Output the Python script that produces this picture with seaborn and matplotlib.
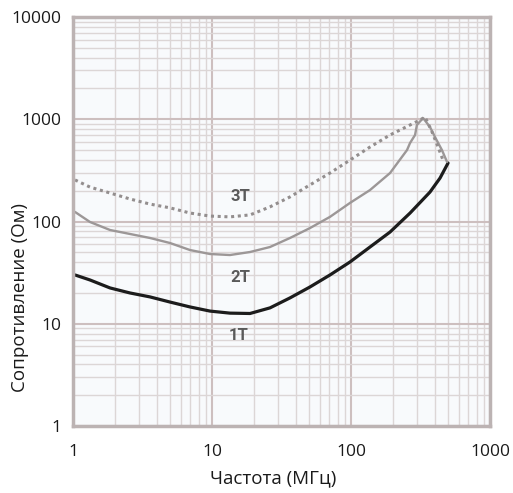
import numpy as np
import pandas as pd
import matplotlib
matplotlib.use("Agg")
import matplotlib.pyplot as plt
import seaborn as sns
from matplotlib.ticker import LogLocator, FixedLocator, NullFormatter

# ---- data ----
f_1t = [1.034, 1.325, 1.846, 2.571, 3.581, 4.987, 6.946, 9.674, 13.47, 18.77,
        26.14, 36.41, 50.7, 70.6, 98.4, 137, 191, 266, 370, 437, 499]
z_1t = [30.0, 26.8, 22.4, 20.0, 18.3, 16.3, 14.6, 13.3, 12.7, 12.6,
        14.3, 17.9, 22.9, 30.0, 40.2, 56.3, 78.9, 121, 194, 266, 373]

f_2t = [1.034, 1.325, 1.846, 2.571, 3.581, 4.987, 6.946, 9.674, 13.47, 18.77,
        26.14, 36.41, 50.7, 70.6, 98.4, 137, 191, 253, 266, 289, 298, 330,
        370, 402, 451, 491]
z_2t = [124, 98.9, 82.6, 75.5, 69.0, 61.6, 52.6, 48.1, 47.0, 50.3,
        56.3, 69.0, 86.3, 111, 152, 203, 298, 500, 586, 702, 879, 1028,
        840, 670, 500, 382]

f_3t = [1.034, 1.325, 1.846, 2.571, 3.581, 4.987, 6.946, 9.674, 13.47, 18.77,
        26.14, 36.41, 50.7, 70.6, 98.4, 137, 191, 266, 314, 341, 383, 423, 459]
z_3t = [255, 217, 190, 166, 148, 136, 121, 113, 111, 116,
        139, 174, 228, 298, 399, 535, 702, 879, 984, 1052, 750, 535, 399]

x_ticks = [1, 10, 100, 1000]
y_ticks = [1, 10, 100, 1000, 10000]
x_title = "Частота (МГц)"
y_title = "Сопротивление (Ом)"
curve_labels = ["3T", "2T", "1T"]
label_f = [15.9, 15.9, 15.6]
label_z = [174, 28.6, 7.76]

df = pd.concat([
    pd.DataFrame({"f": f_1t, "z": z_1t, "s": "1T"}),
    pd.DataFrame({"f": f_2t, "z": z_2t, "s": "2T"}),
    pd.DataFrame({"f": f_3t, "z": z_3t, "s": "3T"}),
], ignore_index=True)

sns.set_style("white")
plt.rcParams["font.family"] = ["Open Sans", "DejaVu Sans"]

fig = plt.figure(figsize=(5.13, 4.93), dpi=100)
ax = fig.add_axes([73 / 513, 1 - 426 / 493, (490 - 73) / 513, (426 - 17) / 493])
ax.set_facecolor("#f8fafc")

sns.lineplot(data=df[df.s == "1T"], x="f", y="z", ax=ax, color="#1c1c1c",
             linewidth=2.3, sort=False, estimator=None)
sns.lineplot(data=df[df.s == "2T"], x="f", y="z", ax=ax, color="#9c9797",
             linewidth=1.7, sort=False, estimator=None)
sns.lineplot(data=df[df.s == "3T"], x="f", y="z", ax=ax, color="#938e8e",
             linewidth=2.2, sort=False, estimator=None, linestyle=(0, (1.0, 1.2)))

ax.set_xscale("log")
ax.set_yscale("log")
ax.set_xlim(1, 1000)
ax.set_ylim(1, 10000)

ax.xaxis.set_major_locator(FixedLocator(x_ticks))
ax.yaxis.set_major_locator(FixedLocator(y_ticks))
ax.set_xticklabels([str(t) for t in x_ticks])
ax.set_yticklabels([str(t) for t in y_ticks])
ax.xaxis.set_minor_locator(LogLocator(base=10, subs=np.arange(2, 10)))
ax.yaxis.set_minor_locator(LogLocator(base=10, subs=np.arange(2, 10)))
ax.xaxis.set_minor_formatter(NullFormatter())
ax.yaxis.set_minor_formatter(NullFormatter())

ax.grid(which="major", color="#cdbfbf", linewidth=1.5)
ax.grid(which="minor", color="#dcd6d6", linewidth=1.0)
ax.set_axisbelow(True)

for sp in ax.spines.values():
    sp.set_color("#bcb3b3")
    sp.set_linewidth(2.5)

ax.tick_params(which="both", length=0)
ax.tick_params(axis="x", pad=13, labelsize=12.5, colors="#1a1a1a")
ax.tick_params(axis="y", pad=8, labelsize=12.5, colors="#1a1a1a")

ax.set_xlabel("")
ax.set_ylabel("")
fig.text(273 / 513, 1 - 478 / 493, x_title, ha="center", va="center",
         fontsize=13.5, color="#1a1a1a")
fig.text(20 / 513, 1 - 298 / 493, y_title, rotation=90, ha="center", va="center",
         fontsize=13.5, color="#1a1a1a")

for lab, x, y in zip(curve_labels, label_f, label_z):
    ax.text(x, y, lab, ha="center", va="center", fontsize=12, color="#5a5a5a",
            fontweight="semibold", fontstretch="condensed",
            family=["Liberation Sans Narrow", "Roboto", "DejaVu Sans"])

if ax.get_legend() is not None:
    ax.get_legend().remove()

fig.savefig("out.png", dpi=100, facecolor="white")
